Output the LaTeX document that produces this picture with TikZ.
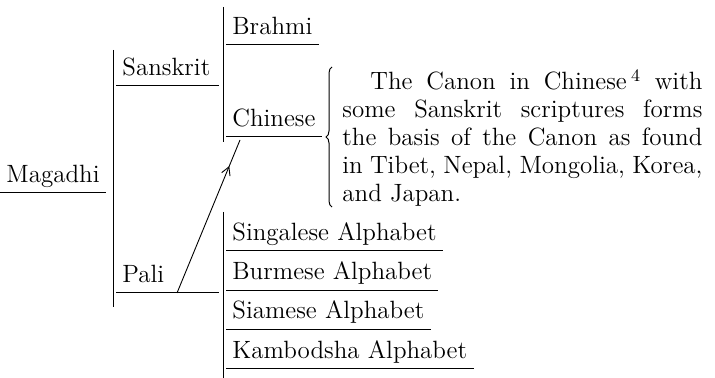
\documentclass[tikz,border=0pt]{standalone}
\usetikzlibrary{positioning,arrows.meta,decorations.pathreplacing,decorations.markings}

\begin{document}
\begin{tikzpicture}[x=0.5pt,y=-0.5pt,
		every node/.style={font=\fontsize{12.5}{14}\selectfont},
		branch/.style={anchor=south west,inner xsep=3pt,inner ysep=2pt,text height=9pt,text depth=3pt},
		midbranch/.style={branch,text width=45pt,align=left},
		bar/.style={line width=0.5pt},
		uline/.style={line width=0.5pt},
		canonbrace/.style={decorate,decoration={brace,amplitude=3pt},line width=0.5pt},
		midarrow/.style={line width=0.45pt,postaction={decorate},
			decoration={markings,mark=at position 0.83 with {\arrow{Straight Barb[length=4pt,width=4.5pt]}}}}
		]
		\useasboundingbox (0,0) rectangle (715,378);
		
		\node[branch](mag) at (0,193){Magadhi};
		\node[midbranch](san) at (116,86){Sanskrit};
		\node[midbranch](pali) at (116,293){Pali};
		\node[branch](brahmi) at (226,45){Brahmi};
		\node[branch](chin) at (226,137){Chinese};
		\node[branch](sing) at (226,251){Singalese Alphabet};
		\node[branch, below = 19.6pt of sing.south west, anchor = south west](burm){Burmese Alphabet};
		\node[branch, below = 19.6pt of burm.south west, anchor = south west](siam){Siamese Alphabet};
		\node[branch, below = 19.6pt of siam.south west, anchor = south west](kamb){Kambodsha Alphabet};
		
		\node[anchor=north west, inner sep=0pt, text width=180pt, align=justify](canon) at (342,69)
		{\hspace*{14pt}The Canon in Chinese\,\textsuperscript{4} with\linebreak
			some Sanskrit scriptures forms\linebreak
			the basis of the Canon as found\linebreak
			in Tibet, Nepal, Mongolia, Korea,\linebreak
			and Japan.};
		
		\coordinate (magTop) at (113,50);
		\coordinate (magBot) at (113,307);
		\coordinate (sanTop) at (223,7);
		\coordinate (sanBot) at (223,142);
		\coordinate (paliTop) at (223,212);
		\coordinate (paliBot) at (223,378);
		\coordinate (braceBot) at (332,207);
		\coordinate (braceTop) at (332,67);
		\coordinate (paliFoot) at (177,293);
		\coordinate (chinFoot) at (240,140);
		
		\draw[uline] (mag.south west) -- (mag.south east);
		\draw[uline] (san.south west) -- (san.south east);
		\draw[uline] (pali.south west) -- (pali.south east);
		\draw[uline] (brahmi.south west) -- (brahmi.south east);
		\draw[uline] (chin.south west) -- (chin.south east);
		\draw[uline] (sing.south west) -- (sing.south east);
		\draw[uline] (burm.south west) -- (burm.south east);
		\draw[uline] (siam.south west) -- (siam.south east);
		\draw[uline] (kamb.south west) -- (kamb.south east);
		
		\draw[bar] (magTop) -- (magBot);
		\draw[bar] (sanTop) -- (sanBot);
		\draw[bar] (paliTop) -- (paliBot);
		
		\draw[canonbrace] (braceBot) -- (braceTop);
		\draw[midarrow] (paliFoot) -- (chinFoot);
	\end{tikzpicture}
\end{document}
